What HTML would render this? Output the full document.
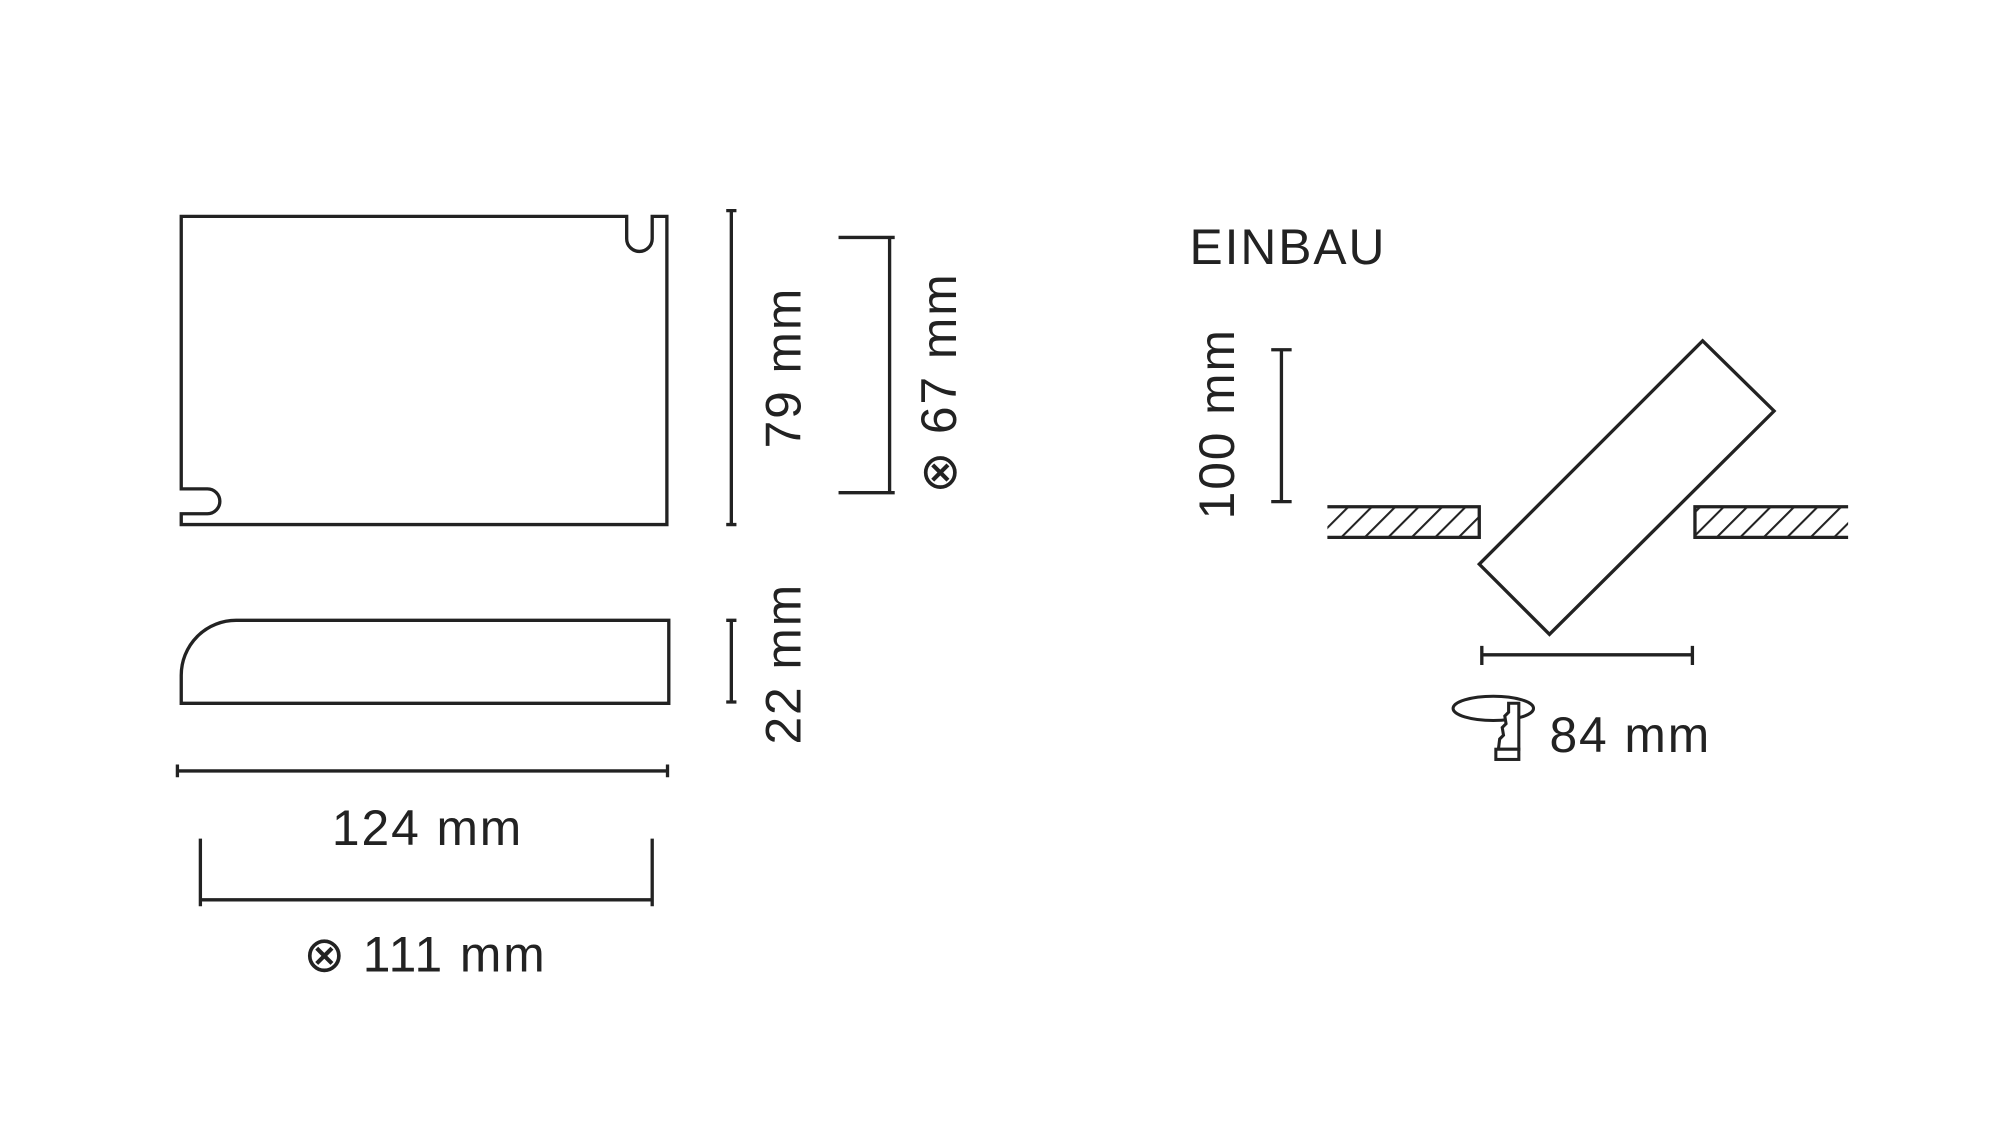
<!DOCTYPE html>
<html><head><meta charset="utf-8"><style>
html,body{margin:0;padding:0;background:#fff}
svg{display:block}
text{font-family:"Liberation Sans",sans-serif;fill:#222;font-size:39px;letter-spacing:1.5px}
</style></head><body>
<svg width="2000" height="1143" viewBox="0 0 1567 895.5" xmlns="http://www.w3.org/2000/svg">
<defs>
<pattern id="h" patternUnits="userSpaceOnUse" width="13" height="13" patternTransform="rotate(45)">
<rect width="13" height="13" fill="#fff"/><line x1="0" y1="0" x2="0" y2="13" stroke="#222" stroke-width="3.2"/>
</pattern>
</defs>
<g fill="none" stroke="#222" stroke-width="2.6">
<path d="M142,169.5 H491 V187 A10,10 0 0 0 511,187 V169.5 H522.5 V411 H142 V402.5 H162.5 A9.7,9.7 0 0 0 162.5,383 H142 Z"/>
<path d="M185,486 H524 V551 H142 V529 A43,43 0 0 1 185,486 Z"/>
<path d="M573,165 V411 M569,165 H577 M569,411 H577"/>
<path d="M697,186 V386 M657,186 H701 M657,386 H701"/>
<path d="M573,486 V550 M569,486 H577 M569,550 H577"/>
<path d="M139,604 H523 M139,599 V609 M523,599 V609"/>
<path d="M157,705 H511 M157,657 V710 M511,657 V710"/>
<path d="M1004,274 V393 M996,274 H1012 M996,393 H1012"/>
<path d="M1161,513 H1326 M1161,506 V521 M1326,506 V521"/>
<path d="M1334,267 L1390,322 L1214,497 L1159,442 Z"/>
</g>
<rect x="1040" y="397" width="119" height="24" fill="url(#h)"/>
<path d="M1040,397 H1159 V421 H1040" fill="none" stroke="#222" stroke-width="2.6"/>
<rect x="1328" y="397" width="120" height="24" fill="url(#h)"/>
<path d="M1448,397 H1328 V421 H1448" fill="none" stroke="#222" stroke-width="2.6"/>
<ellipse cx="1170" cy="555" rx="31.5" ry="9.5" fill="none" stroke="#222" stroke-width="2.4"/>
<path d="M1182,551 H1190 V587 H1174 L1175,579 L1178,576 L1177,570 L1180,567 L1179,561 L1182,558 Z" fill="#fff" stroke="#222" stroke-width="2.4"/>
<rect x="1172" y="587" width="18" height="8" fill="#fff" stroke="#222" stroke-width="2.4"/>
<text x="932" y="207">EINBAU</text>
<text x="335" y="662" text-anchor="middle">124 mm</text>
<text x="333" y="761" text-anchor="middle">⊗ 111 mm</text>
<text x="1214" y="589">84 mm</text>
<text transform="translate(627,288) rotate(-90)" text-anchor="middle">79 mm</text>
<text transform="translate(749,300) rotate(-90)" text-anchor="middle">⊗ 67 mm</text>
<text transform="translate(627,520) rotate(-90)" text-anchor="middle">22 mm</text>
<text transform="translate(967,332) rotate(-90)" text-anchor="middle">100 mm</text>
</svg>
</body></html>
